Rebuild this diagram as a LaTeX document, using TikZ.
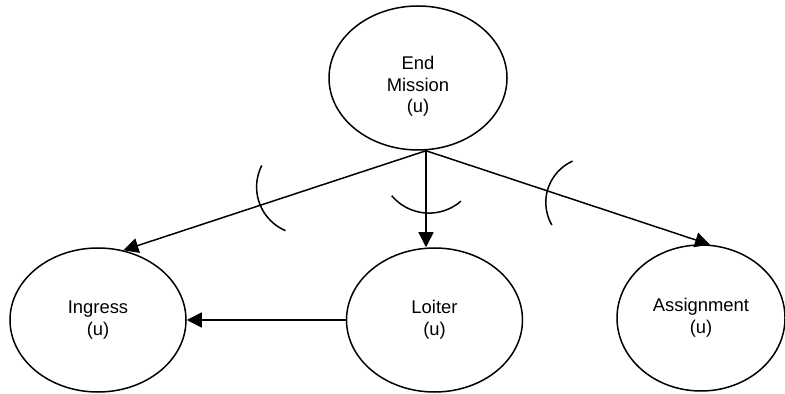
\documentclass[tikz,border=0pt]{standalone}
\usepackage{fontspec}
\setmainfont{Liberation Sans}
\usetikzlibrary{arrows.meta,shapes.geometric}
\begin{document}
\begin{tikzpicture}[x=0.5pt,y=-0.5pt,line width=0.75pt,
    state/.style={draw,ellipse,inner sep=0pt,minimum width=88pt,minimum height=72pt,
      align=center,font=\fontsize{9.2pt}{10.85pt}\selectfont},
    arr/.style={-{Triangle[length=7.5pt,width=7.5pt]}}]
        \useasboundingbox (0,0) rectangle (785,394);
        \node[state,minimum width=89pt,text height=36.7pt] (end) at (418,78) {End\\Mission\\(u)};
        \node[state] (ingress) at (98,320) {Ingress\\(u)};
        \node[state] (loiter) at (434.5,320) {Loiter\\(u)};
        \node[state,minimum width=84pt,minimum height=73pt] (assign) at (701,318) {Assignment\\(u)};
        \coordinate (hub) at ([xshift=4pt]end.south);
        \draw[arr] (hub) -- (ingress.70);
        \draw[arr] (hub) -- (hub |- loiter.north);
        \draw[arr] (hub) -- (assign.83);
        \draw[arr] (loiter.west) -- (ingress.east);
        \draw (304,187) ++(153:23.7pt) arc (153:247:23.7pt);
        \draw (429,164.5) ++(220:24.3pt) arc (220:311:24.3pt);
        \draw (591,202.4) ++(114:22.6pt) arc (114:210:22.6pt);
      \end{tikzpicture}
\end{document}
